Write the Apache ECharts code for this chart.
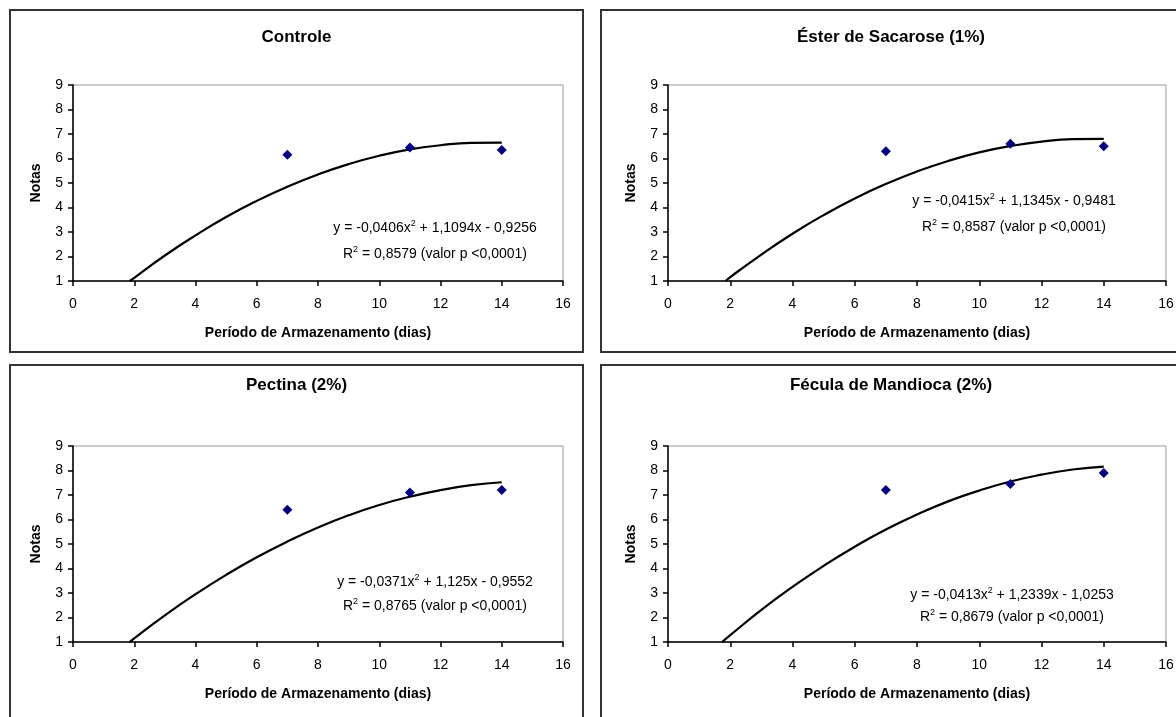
<!DOCTYPE html>
<html>
<head>
<meta charset="utf-8">
<script src="https://cdn.jsdelivr.net/npm/echarts@6/dist/echarts.min.js"></script>
<style>
  html, body { margin: 0; padding: 0; background: #fff; overflow: hidden; }
  .box { position: absolute; box-sizing: border-box; border: 2px solid #333; background: #fff; }
  .box div.c { width: 100%; height: 100%; }
</style>
</head>
<body>
<div class="box" style="left:9px;top:9px;width:575px;height:344px"><div class="c" id="c1"></div></div>
<div class="box" style="left:600px;top:9px;width:582px;height:344px"><div class="c" id="c2"></div></div>
<div class="box" style="left:9px;top:364px;width:575px;height:370px"><div class="c" id="c3"></div></div>
<div class="box" style="left:600px;top:364px;width:582px;height:370px"><div class="c" id="c4"></div></div>
<script>
// pontos observados (dias 7, 11, 14)
const dias = [7, 11, 14];
const notasControle = [6.15, 6.45, 6.35];
const notasEster = [6.3, 6.6, 6.5];
const notasPectina = [6.4, 7.1, 7.2];
const notasFecula = [7.2, 7.45, 7.9];

// linha de tendência
const curvaDias = [1.85, 2, 3, 4, 5, 6, 7, 8, 9, 10, 11, 12, 13, 14];
const curvaControle = [1.0, 1.13, 2.04, 2.86, 3.61, 4.27, 4.85, 5.35, 5.77, 6.11, 6.37, 6.54, 6.64, 6.65];
const curvaEster = [1.0, 1.16, 2.08, 2.93, 3.69, 4.37, 4.96, 5.47, 5.9, 6.25, 6.51, 6.69, 6.79, 6.8];
const curvaPectina = [1.0, 1.15, 2.09, 2.95, 3.74, 4.46, 5.1, 5.67, 6.17, 6.59, 6.93, 7.2, 7.4, 7.52];
const curvaFecula = [1.0, 1.28, 2.31, 3.25, 4.11, 4.89, 5.59, 6.2, 6.74, 7.18, 7.55, 7.83, 8.04, 8.16];
const curvaFeculaDias = [1.74, 2, 3, 4, 5, 6, 7, 8, 9, 10, 11, 12, 13, 14];

const xTicks = [0, 2, 4, 6, 8, 10, 12, 14, 16];
const yTicks = [1, 2, 3, 4, 5, 6, 7, 8, 9];

const FONT = "'Liberation Sans', Arial, sans-serif";

function pares(xs, ys) {
    return xs.map((x, i) => [x, ys[i]]);
}

function montar(id, cfg) {
    let chart = echarts.init(document.getElementById(id));
    let eixo = {
        axisLine: { show: true, lineStyle: { color: '#000', width: 1.5 } },
        axisTick: { show: true, inside: false, length: 5, lineStyle: { color: '#000', width: 1.5 } },
        axisLabel: { color: '#000', fontSize: 14, fontFamily: FONT },
        splitLine: { show: false },
        nameTextStyle: { color: '#000', fontSize: 14, fontWeight: 'bold', fontFamily: FONT }
    };
    chart.setOption({
        animation: false,
        title: {
            text: cfg.titulo, left: 'center', top: cfg.tt,
            textStyle: { fontSize: 17, fontWeight: 'bold', color: '#000', fontFamily: FONT }
        },
        grid: {
            left: cfg.gl, top: cfg.gt, width: cfg.gw, height: 196,
            show: true, borderColor: '#999', borderWidth: 1, backgroundColor: '#fff'
        },
        xAxis: Object.assign({}, eixo, {
            type: 'value', min: xTicks[0], max: xTicks[xTicks.length - 1], interval: 2,
            name: 'Período de Armazenamento (dias)', nameLocation: 'middle', nameGap: 45,
            axisLabel: Object.assign({}, eixo.axisLabel, { margin: 16 })
        }),
        yAxis: Object.assign({}, eixo, {
            type: 'value', min: yTicks[0], max: yTicks[yTicks.length - 1], interval: 1,
            name: 'Notas', nameLocation: 'middle', nameGap: 30,
            axisLabel: Object.assign({}, eixo.axisLabel, { margin: 10 })
        }),
        series: [
            {
                type: 'line', data: pares(cfg.cx, cfg.cy), smooth: true, symbol: 'none',
                lineStyle: { color: '#000', width: 2.2 }, z: 2
            },
            {
                type: 'scatter', data: pares(dias, cfg.notas), symbol: 'diamond', symbolSize: 10,
                itemStyle: { color: '#000080', opacity: 1 }, z: 3
            }
        ],
        graphic: [
            {
                type: 'text', x: cfg.tx, y: cfg.ty1,
                style: {
                    text: cfg.eq, align: 'center', verticalAlign: 'middle', fill: '#000',
                    font: '14px ' + FONT,
                    rich: { s: { fontSize: 9, fontFamily: FONT, padding: [0, 0, 8, 0] } }
                }
            },
            {
                type: 'text', x: cfg.tx, y: cfg.ty2,
                style: {
                    text: cfg.r2, align: 'center', verticalAlign: 'middle', fill: '#000',
                    font: '14px ' + FONT,
                    rich: { s: { fontSize: 9, fontFamily: FONT, padding: [0, 0, 8, 0] } }
                }
            }
        ]
    });
}

montar('c1', {
    titulo: 'Controle', notas: notasControle, cx: curvaDias, cy: curvaControle,
    tt: 13, gl: 62, gt: 74, gw: 490, tx: 424, ty1: 217, ty2: 243,
    eq: 'y = -0,0406x{s|2} + 1,1094x - 0,9256', r2: 'R{s|2} = 0,8579 (valor p <0,0001)'
});
montar('c2', {
    titulo: 'Éster de Sacarose (1%)', notas: notasEster, cx: curvaDias, cy: curvaEster,
    tt: 13, gl: 66, gt: 74, gw: 498, tx: 412, ty1: 190, ty2: 216,
    eq: 'y = -0,0415x{s|2} + 1,1345x - 0,9481', r2: 'R{s|2} = 0,8587 (valor p <0,0001)'
});
montar('c3', {
    titulo: 'Pectina (2%)', notas: notasPectina, cx: curvaDias, cy: curvaPectina,
    tt: 6, gl: 62, gt: 80, gw: 490, tx: 424, ty1: 216, ty2: 240,
    eq: 'y = -0,0371x{s|2} + 1,125x - 0,9552', r2: 'R{s|2} = 0,8765 (valor p <0,0001)'
});
montar('c4', {
    titulo: 'Fécula de Mandioca (2%)', notas: notasFecula, cx: curvaFeculaDias, cy: curvaFecula,
    tt: 6, gl: 66, gt: 80, gw: 498, tx: 410, ty1: 229, ty2: 251,
    eq: 'y = -0,0413x{s|2} + 1,2339x - 1,0253', r2: 'R{s|2} = 0,8679 (valor p <0,0001)'
});
</script>
</body>
</html>
